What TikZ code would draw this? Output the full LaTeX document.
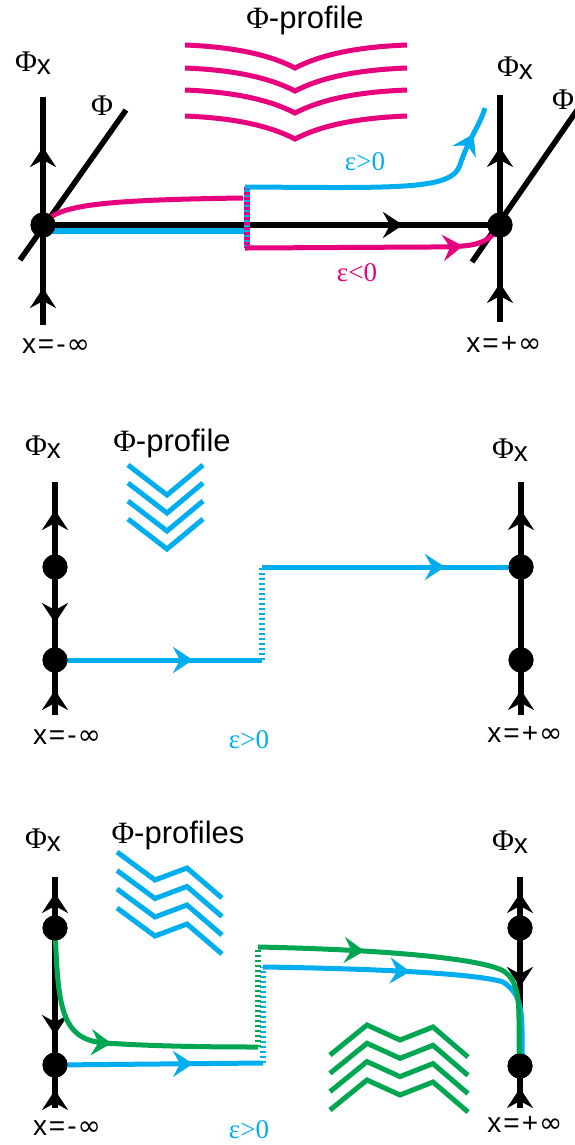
\documentclass[tikz,border=0pt]{standalone}
\usepackage{fontspec}
\setmainfont{Liberation Sans}
\newfontfamily\seriffont{Liberation Serif}
\newfontfamily\symfont{DejaVu Sans}
\usetikzlibrary{arrows.meta,decorations.markings}
\definecolor{mag}{RGB}{230,0,126}
\definecolor{cyb}{RGB}{0,174,239}
\definecolor{grn}{RGB}{0,166,81}
\newcommand{\phx}{{\seriffont\fontsize{30}{30}\selectfont Φ}\raisebox{-3pt}{x}}
\newcommand{\xinf}[1]{x\kern2pt=\kern2pt#1\kern1pt{\symfont ∞}}
\begin{document}
\begin{tikzpicture}[x=1pt,y=-1pt,
  dot/.style={circle,fill=black,inner sep=0pt,minimum size=25pt},
  ax/.style={line width=5.5pt,black},
  cl/.style={line width=5pt,line cap=butt},
  dots/.style={line width=5.5pt,dash pattern=on 2.5pt off 2.5pt},
  arr/.style={postaction={decorate,decoration={markings,mark=at position #1 with {\arrow{Stealth[length=20pt,width=26pt,inset=7pt]}}}}},
  lab/.style={inner sep=0pt,font=\fontsize{28}{28}\selectfont},
  eps/.style={inner sep=0pt,font=\seriffont\fontsize{27}{27}\selectfont},
  title/.style={inner sep=0pt,font=\fontsize{31}{31}\selectfont}
]
\useasboundingbox (0,0) rectangle (575,1145);
%================ panel 1 =================
\coordinate (L1t) at (43,97);  \coordinate (L1b) at (43,325);
\coordinate (R1t) at (500,95); \coordinate (R1b) at (500,322);
\coordinate (L1p1) at (20,260); \coordinate (L1p2) at (126,110);
\coordinate (R1p1) at (472,262); \coordinate (R1p2) at (582,103);
\coordinate (J1u) at (247,187); \coordinate (J1d) at (247,248);
\coordinate (B1e) at (485,108);
\node[title] (prof1) at (305,20) {{\seriffont Φ}-profile};
\node[lab] (phx1L) at (33,63) {\phx};
\node[lab,font=\seriffont\fontsize{30}{30}\selectfont] (phi1L) at (102,106) {Φ};
\node[lab] (phx1R) at (515,68) {\phx};
\node[lab,font=\seriffont\fontsize{30}{30}\selectfont] (phi1R) at (563,100) {Φ};
\node[lab] (xm1) at (56,346) {\xinf{-}};
\node[lab] (xp1) at (504,344) {\xinf{+}};
\node[eps,text=cyb] (ep1) at (365,162) {ε>0};
\node[eps,text=mag] (en1) at (357,273) {ε<0};
% profiles
\foreach \y in {45,68,90,116}
  \draw[cl,mag] (185,\y) .. controls (235,\y+2) and (270,\y+10) .. (295,\y+23)
     .. controls (320,\y+10) and (355,\y+2) .. (407,\y);
% axes
\draw[ax] (L1p1) -- (L1p2);
\draw[ax] (R1p1) -- (R1p2);
\draw[ax,arr=178pt,arr=37pt] (L1b) -- (L1t);
\draw[ax,arr=175pt,arr=39pt] (R1b) -- (R1t);
\node[dot] (L1) at (43,225) {};
\node[dot] (R1) at (500,225) {};
% trajectories
\draw[cyb,line width=7pt] (L1.center) ++(0,5) -- (245,230);
\draw[ax,arr=360pt] (L1.center) -- (R1.center);
\draw[cl,mag] (L1.center) .. controls (55,205) and (100,200) .. (243,198);
\draw[dots,mag] (J1u) -- (J1d);
\draw[dots,cyb,dash phase=2.5pt] (J1u) -- (J1d);
\draw[cl,cyb,arr=0.9] (245,187) -- (J1u) .. controls (400,188) and (452,190) .. (460,165) .. controls (468,140) and (480,125) .. (B1e);
\draw[cl,mag,arr=0.83] (245,248) -- (J1d) -- (430,247) .. controls (475,247) and (488,245) .. (R1.center);
\node[dot] at (L1) {};
\node[dot] at (R1) {};
%================ panel 2 =================
\coordinate (L2t) at (55,482); \coordinate (L2b) at (55,715);
\coordinate (R2t) at (521,482); \coordinate (R2b) at (521,715);
\coordinate (J2d) at (262,660); \coordinate (J2u) at (262,567);
\node[lab] (phx2L) at (43,447) {\phx};
\node[title] (prof2) at (172,443) {{\seriffont Φ}-profile};
\node[lab] (phx2R) at (510,450) {\phx};
\node[lab] (xm2) at (67,737) {\xinf{-}};
\node[eps,text=cyb] (ep2) at (249,740) {ε>0};
\node[lab] (xp2) at (525,734) {\xinf{+}};
\foreach \y in {465,483,501,519}
  \draw[cl,cyb] (128,\y) -- (167,\y+30) -- (203,\y);
\node[dot] (L2a) at (55,567) {};
\node[dot] (L2b') at (55,660) {};
\node[dot] (R2a) at (521,567) {};
\node[dot] (R2b') at (521,660) {};
\draw[ax,arr=57pt] (L2a.center) -- (L2t);
\draw[ax,arr=56pt] (L2a.center) -- (L2b'.center);
\draw[ax,arr=25pt] (L2b) -- (L2b'.center);
\draw[ax,arr=57pt] (R2a.center) -- (R2t);
\draw[ax] (R2a.center) -- (R2b'.center);
\draw[ax,arr=25pt] (R2b) -- (R2b'.center);
\draw[cl,cyb,arr=138pt] (L2b'.center) -- (J2d);
\draw[dots,cyb] (J2d) -- (J2u);
\draw[cl,cyb,arr=183pt] (J2u) -- (R2a.center);
\node[dot] at (L2a) {}; \node[dot] at (L2b') {};
\node[dot] at (R2a) {}; \node[dot] at (R2b') {};
%================ panel 3 =================
\coordinate (L3t) at (55,877); \coordinate (L3b) at (55,1108);
\coordinate (R3t) at (520,877); \coordinate (R3b) at (520,1108);
\coordinate (G3d) at (258,1047); \coordinate (G3u) at (258,947);
\coordinate (C3d) at (263,1063); \coordinate (C3u) at (263,967);
\node[lab] (phx3L) at (43,840) {\phx};
\node[title] (prof3) at (178,835) {{\seriffont Φ}-profiles};
\node[lab] (phx3R) at (510,842) {\phx};
\node[lab] (xm3) at (67,1128) {\xinf{-}};
\node[eps,text=cyb] (ep3) at (249,1130) {ε>0};
\node[lab] (xp3) at (525,1124) {\xinf{+}};
\foreach \d in {0,18.5,37,56}
  \draw[cl,cyb] (117,852+\d) -- (155,880+\d) -- (187,868+\d) -- (222,898+\d);
\foreach \d in {0,18.3,36.6,55}
  \draw[cl,grn] (330,1055+\d) -- (367,1025+\d) -- (400,1040+\d) -- (433,1027+\d) -- (468,1057+\d);
\node[dot] (L3a) at (55,928) {};
\node[dot] (L3b') at (55,1065) {};
\node[dot] (R3a) at (520,928) {};
\node[dot] (R3b') at (520,1066) {};
\draw[ax,arr=35pt] (L3a.center) -- (L3t);
\draw[ax,arr=107pt] (L3a.center) -- (L3b'.center);
\draw[ax,arr=18pt] (L3b) -- (L3b'.center);
\draw[ax,arr=35pt] (R3a.center) -- (R3t);
\draw[ax,arr=59pt] (R3a.center) -- (R3b'.center);
\draw[ax,arr=20pt] (R3b) -- (R3b'.center);
\draw[cl,cyb,arr=138pt] (L3b'.center) -- (C3d);
\draw[dots,cyb] (C3d) -- (C3u);
\draw[dots,grn] (G3d) -- (G3u);
\draw[cl,grn,arr=0.5] (L3a.center) .. controls (58,1005) and (60,1040) .. (105,1043) .. controls (150,1046) and (200,1047) .. (G3d);
\draw[cl,cyb,arr=0.45] (C3u) .. controls (400,969) and (482,975) .. (503,982) .. controls (516,990) and (522,1002) .. (522,1030) -- (522,1062);
\draw[cl,grn,arr=0.31] (G3u) .. controls (400,950) and (488,960) .. (505,972) .. controls (516,980) and (519,995) .. (519,1020) -- (519,1062);
\node[dot] at (L3a) {}; \node[dot] at (L3b') {};
\node[dot] at (R3a) {}; \node[dot] at (R3b') {};
\end{tikzpicture}
\end{document}
